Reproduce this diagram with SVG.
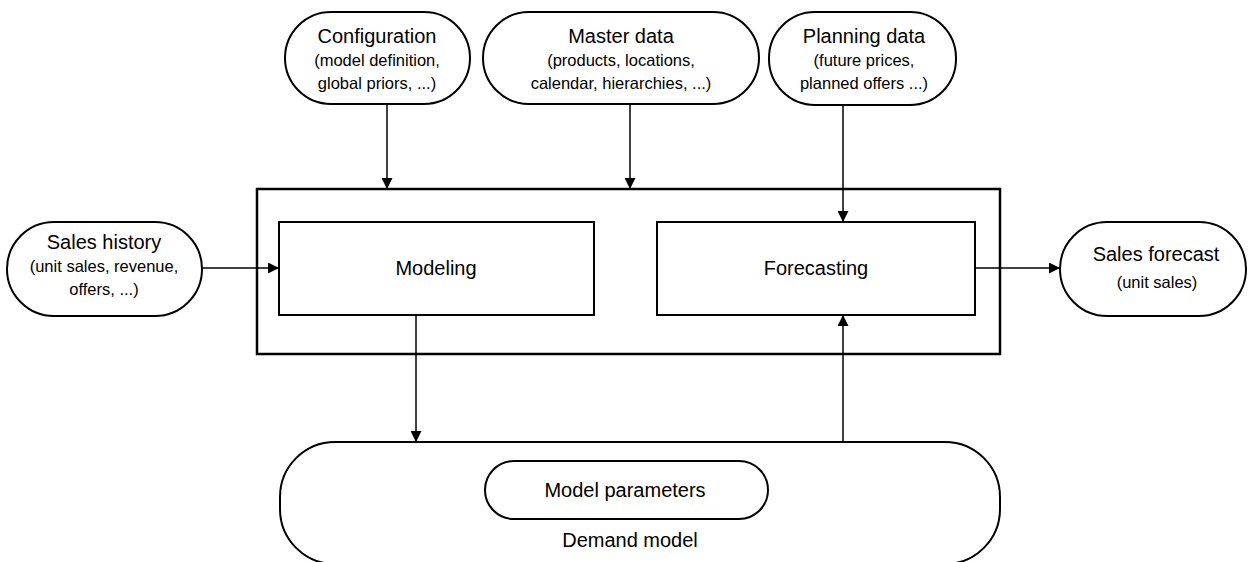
<svg xmlns="http://www.w3.org/2000/svg" width="1248" height="562" viewBox="0 0 1248 562">
<style>
.shape{fill:#fff;stroke:#000;stroke-width:2}
.outer{fill:none;stroke:#000;stroke-width:2.5}
.edge{fill:none;stroke:#000;stroke-width:1.5}
text{font-family:"Liberation Sans",Arial,sans-serif;fill:#000;text-anchor:middle}
.t{font-size:20px}
.s{font-size:16.5px}
</style>
<defs>
<marker id="arr" viewBox="0 0 10 10" refX="10" refY="5" markerWidth="11" markerHeight="11" markerUnits="userSpaceOnUse" orient="auto">
<path d="M0,0 L10,5 L0,10 z" fill="#000"/>
</marker>
</defs>
<g id="system">
<rect class="outer" x="257" y="189" width="743" height="165"/>
</g>
<g id="configuration">
<rect class="shape" x="285" y="12" width="185" height="92" rx="46" ry="46"/>
<text class="t" x="377" y="43">Configuration</text>
<text class="s" x="377" y="66">(model definition,</text>
<text class="s" x="377" y="89">global priors, ...)</text>
</g>
<g id="master-data">
<rect class="shape" x="483" y="12" width="276" height="92" rx="46" ry="46"/>
<text class="t" x="621" y="43">Master data</text>
<text class="s" x="621" y="66">(products, locations,</text>
<text class="s" x="621" y="89">calendar, hierarchies, ...)</text>
</g>
<g id="planning-data">
<rect class="shape" x="769" y="12" width="187" height="93" rx="46" ry="46"/>
<text class="t" x="864" y="43">Planning data</text>
<text class="s" x="864" y="66">(future prices,</text>
<text class="s" x="864" y="89">planned offers ...)</text>
</g>
<g id="sales-history">
<rect class="shape" x="7" y="222" width="195" height="94" rx="47" ry="47"/>
<text class="t" x="104" y="249">Sales history</text>
<text class="s" x="104" y="272">(unit sales, revenue,</text>
<text class="s" x="104" y="295">offers, ...)</text>
</g>
<g id="modeling">
<rect class="shape" x="279" y="222" width="315" height="93"/>
<text class="t" x="436" y="275">Modeling</text>
</g>
<g id="forecasting">
<rect class="shape" x="657" y="222" width="318" height="93"/>
<text class="t" x="816" y="275">Forecasting</text>
</g>
<g id="sales-forecast">
<rect class="shape" x="1060" y="222" width="186" height="94" rx="47" ry="47"/>
<text class="t" x="1156" y="261">Sales forecast</text>
<text class="s" x="1157" y="288">(unit sales)</text>
</g>
<g id="demand-model">
<rect class="shape" x="280" y="442" width="720" height="122" rx="55" ry="55"/>
<text class="t" x="630" y="547">Demand model</text>
</g>
<g id="model-parameters">
<rect class="shape" x="485" y="461" width="283" height="58" rx="29" ry="29"/>
<text class="t" x="625" y="497">Model parameters</text>
</g>
<g id="connectors">
<line class="edge" x1="387" y1="104" x2="387" y2="189" marker-end="url(#arr)"/>
<line class="edge" x1="630" y1="104" x2="630" y2="189" marker-end="url(#arr)"/>
<line class="edge" x1="843" y1="105" x2="843" y2="222" marker-end="url(#arr)"/>
<line class="edge" x1="202" y1="268" x2="279" y2="268" marker-end="url(#arr)"/>
<line class="edge" x1="975" y1="268" x2="1060" y2="268" marker-end="url(#arr)"/>
<line class="edge" x1="416" y1="315" x2="416" y2="442" marker-end="url(#arr)"/>
<line class="edge" x1="843" y1="442" x2="843" y2="315" marker-end="url(#arr)"/>
</g>
</svg>
